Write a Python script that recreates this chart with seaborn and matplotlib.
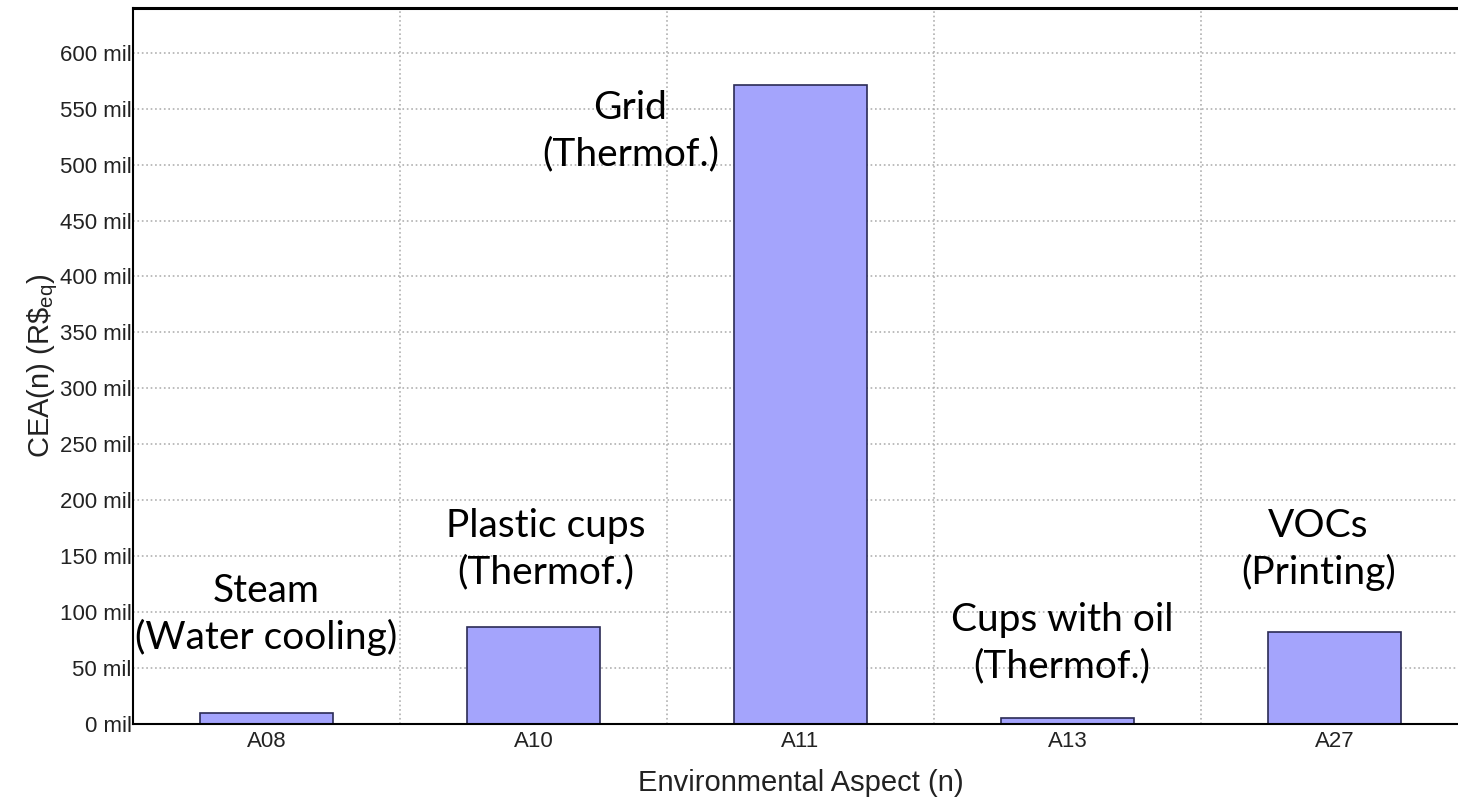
import seaborn as sns
import matplotlib.pyplot as plt
import matplotlib.ticker as mticker
import pandas as pd

aspects = ['A08', 'A10', 'A11', 'A13', 'A27']
cea_mil = [10, 87, 571, 5, 82]

notes = ['Steam\n(Water cooling)', 'Plastic cups\n(Thermof.)', 'Grid\n(Thermof.)',
         'Cups with oil\n(Thermof.)', 'VOCs\n(Printing)']
note_x = [0.0, 1.045, 1.363, 2.98, 3.94]
note_y = [98, 156, 530, 72, 156]

df = pd.DataFrame({'aspect': aspects, 'cea': cea_mil})

sns.set_style('white')
plt.rcParams['font.family'] = ['Liberation Sans', 'DejaVu Sans']
plt.rcParams['mathtext.fontset'] = 'custom'
plt.rcParams['mathtext.rm'] = 'Liberation Sans'
plt.rcParams['mathtext.it'] = 'Liberation Sans'

fig = plt.figure(figsize=(14.58, 7.97), dpi=100)
ax = fig.add_axes([133 / 1458, 73 / 797, 1335 / 1458, 716 / 797])

sns.barplot(data=df, x='aspect', y='cea', color='#a4a4fc', edgecolor='#2b2b55',
            linewidth=1.2, width=0.5, saturation=1, ax=ax)

ax.set_xlim(-0.5, 4.5)
ax.set_ylim(0, 640)
ax.yaxis.set_major_locator(mticker.MultipleLocator(50))
ax.yaxis.set_major_formatter(mticker.FuncFormatter(lambda v, p: f'{int(v)} mil'))
ax.set_xticks([0.5, 1.5, 2.5, 3.5], minor=True)
ax.grid(True, axis='y', which='major', linestyle=':', color='#b0b0b0', linewidth=1.2)
ax.grid(True, axis='x', which='minor', linestyle=':', color='#b0b0b0', linewidth=1.2)
ax.set_axisbelow(True)
ax.tick_params(axis='both', which='both', length=0, labelsize=16, pad=1,
               labelcolor='#222222')
ax.tick_params(axis='x', pad=5)

for s in ['left', 'bottom', 'top']:
    ax.spines[s].set_color('black')
    ax.spines[s].set_linewidth(1.5)
ax.spines['top'].set_linewidth(2.2)
ax.spines['right'].set_visible(False)

ax.set_xlabel('Environmental Aspect (n)', fontsize=21, labelpad=12, color='#222222')
ax.set_ylabel(r'CEA(n) (R\$$_{eq}$)', fontsize=21, labelpad=0, color='#222222')

for t, x, y in zip(notes, note_x, note_y):
    ax.text(x, y, t, ha='center', va='center', fontsize=28, family=['Lato', 'DejaVu Sans'],
            linespacing=1.35, color='black')

fig.savefig('out.png', dpi=100)
